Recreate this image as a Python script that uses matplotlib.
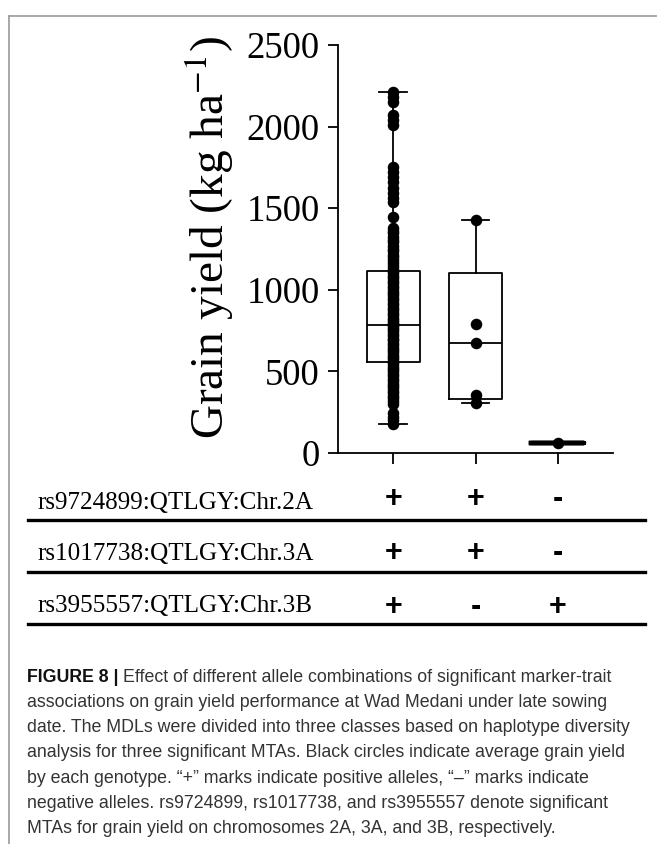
import matplotlib
matplotlib.use("Agg")
import matplotlib.pyplot as plt
from matplotlib.lines import Line2D
from matplotlib.transforms import blended_transform_factory

plt.rcParams["font.family"] = "Liberation Serif"
plt.rcParams["mathtext.fontset"] = "stix"

# grain yield of each genotype (kg ha-1)
yield_class1 = [2212, 2180, 2150, 2070, 2040, 2010,
                1750, 1720, 1690, 1660, 1625, 1595, 1565, 1535,
                1445,
                1380, 1362, 1345, 1325, 1305, 1290, 1270, 1252, 1235, 1215, 1198, 1180,
                1162, 1145, 1130, 1115, 1100, 1085, 1072, 1055, 1040, 1026, 1010, 995,
                980, 966, 950, 935, 921, 905, 890, 876, 860, 846, 830, 815, 800, 790,
                784, 775, 760, 745, 731, 715, 700, 690, 675, 661, 645, 630, 616, 600,
                590, 575, 558, 545, 530, 516, 500, 485, 470, 456, 440, 425, 410, 396,
                380, 366, 350, 335, 320, 300, 245, 222, 200, 178]
yield_class2 = [1425, 793, 674, 355, 306]
yield_class3 = [60]

# box statistics (min-to-max whiskers)
q1s = [558, 330, 60]
medians = [784, 674, 60]
q3s = [1115, 1105, 60]
whisker_low = [178, 306, 60]
whisker_high = [2212, 1425, 60]

positions = [1, 2, 3]
y_ticks = [0, 500, 1000, 1500, 2000, 2500]

markers = ["rs9724899:QTLGY:Chr.2A", "rs1017738:QTLGY:Chr.3A", "rs3955557:QTLGY:Chr.3B"]
alleles = [["+", "+", "-"],
           ["+", "+", "-"],
           ["+", "-", "+"]]

caption_head = "FIGURE 8 | "
caption_first = "Effect of different allele combinations of significant marker-trait"
caption_lines = [
    "associations on grain yield performance at Wad Medani under late sowing",
    "date. The MDLs were divided into three classes based on haplotype diversity",
    "analysis for three significant MTAs. Black circles indicate average grain yield",
    "by each genotype. \u201c+\u201d marks indicate positive alleles, \u201c\u2013\u201d marks indicate",
    "negative alleles. rs9724899, rs1017738, and rs3955557 denote significant",
    "MTAs for grain yield on chromosomes 2A, 3A, and 3B, respectively.",
]

W, H = 657, 844


def fx(px):
    return px / W


def fy(py):
    return 1 - py / H


fig = plt.figure(figsize=(W / 100, H / 100), dpi=100)
ax = fig.add_axes([fx(338), fy(453), fx(275), 408 / H])

groups = [yield_class1, yield_class2, yield_class3]
stats = []
for i in range(3):
    stats.append(dict(q1=q1s[i], med=medians[i], q3=q3s[i],
                      whislo=whisker_low[i], whishi=whisker_high[i], fliers=[]))

line_kw = dict(color="black", linewidth=1.3)
ax.bxp(stats[:2], positions=positions[:2], widths=0.65, capwidths=0.34,
       showfliers=False, boxprops=line_kw, whiskerprops=line_kw,
       capprops=line_kw, medianprops=line_kw)
# third class has a single genotype -> box collapses to a thick bar
ax.bxp(stats[2:], positions=positions[2:], widths=0.65, showcaps=False,
       showfliers=False, boxprops=dict(color="black", linewidth=3.2),
       whiskerprops=line_kw, medianprops=dict(color="black", linewidth=3.2))

for pos, vals in zip(positions, groups):
    ax.plot([pos] * len(vals), vals, "o", color="black", markersize=7.3,
            zorder=4, clip_on=False)

ax.set_xlim(0.325, 3.675)
ax.set_ylim(0, 2500)
ax.set_yticks(y_ticks)
ax.set_yticklabels([str(t) for t in y_ticks], fontsize=26.5)
ax.set_xticks(positions)
ax.set_xticklabels(["", "", ""])
ax.tick_params(axis="y", length=7, width=1.3, pad=6)
ax.tick_params(axis="x", length=8, width=1.3)
for side in ["top", "right"]:
    ax.spines[side].set_visible(False)
for side in ["left", "bottom"]:
    ax.spines[side].set_linewidth(1.3)

ax.set_ylabel(r"Grain yield (kg ha$^{-1}$)", fontsize=34)
ax.yaxis.set_label_coords(-0.371, 0.527)

# allele table under the plot
row_base = [509, 560, 612]
row_mid = [499, 553, 607]
row_line = [520, 572, 624]
trans = blended_transform_factory(ax.transData, fig.transFigure)
for r in range(3):
    fig.text(fx(37), fy(row_base[r]), markers[r], fontsize=18.1,
             ha="left", va="baseline")
    for c in range(3):
        fig.text(positions[c], fy(row_mid[r]), alleles[r][c], transform=trans,
                 fontsize=22, fontweight="bold", family="Liberation Sans",
                 ha="center", va="center")
    fig.add_artist(Line2D([fx(28), fx(645)], [fy(row_line[r])] * 2,
                          transform=fig.transFigure, color="black", linewidth=2.4))

# frame lines of the figure panel
fig.add_artist(Line2D([fx(9), 1], [fy(16), fy(16)], transform=fig.transFigure,
                      color="#9a9a9a", linewidth=1.2))
fig.add_artist(Line2D([fx(9), fx(9)], [fy(16), 0], transform=fig.transFigure,
                      color="#9a9a9a", linewidth=1.2))

# caption
cap_size = 12.8
cap_color = "#333333"
head = fig.text(fx(27), fy(682), caption_head, fontsize=cap_size,
                fontweight="bold", family="Liberation Sans", color="#111111",
                va="baseline")
ax.annotate(caption_first, xy=(1, 0), xycoords=head, xytext=(0, 0),
            textcoords="offset points", fontsize=cap_size,
            family="Liberation Sans", color=cap_color, va="bottom",
            annotation_clip=False)
for i, line in enumerate(caption_lines):
    fig.text(fx(27), fy(707 + i * 25.2), line, fontsize=cap_size,
             family="Liberation Sans", color=cap_color, va="baseline")

fig.savefig("out.png", dpi=100)
